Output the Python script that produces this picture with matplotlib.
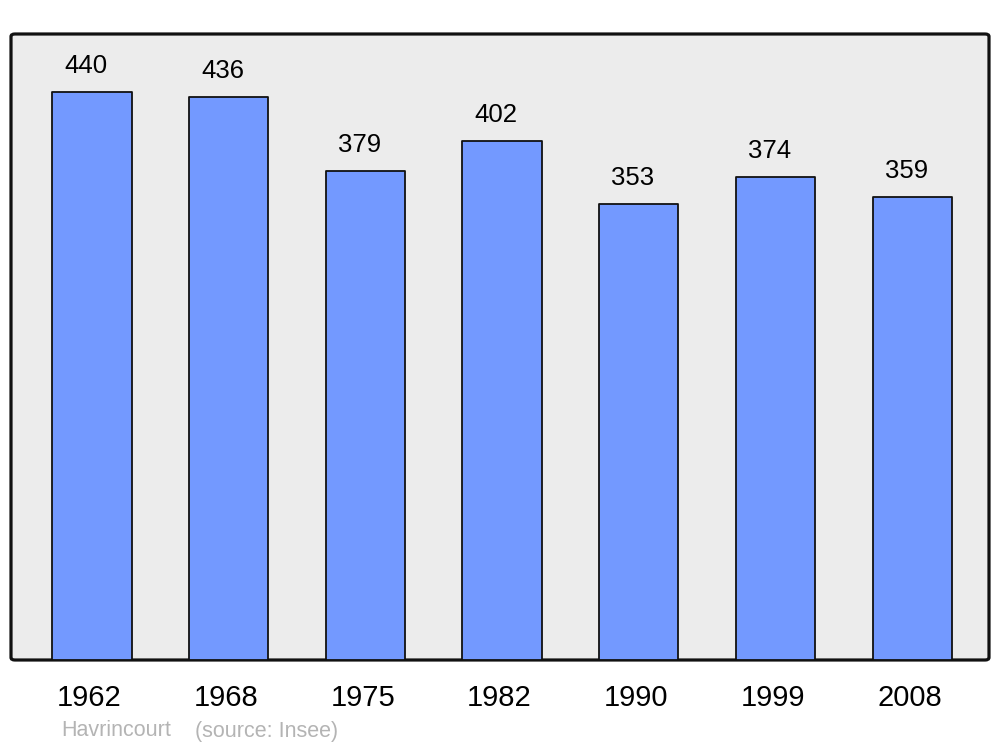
import matplotlib
matplotlib.use("Agg")
import matplotlib.pyplot as plt
from matplotlib.patches import FancyBboxPatch
from matplotlib.transforms import ScaledTranslation

plt.rcParams['font.family'] = ['Liberation Sans', 'DejaVu Sans']

years = ["1962", "1968", "1975", "1982", "1990", "1999", "2008"]
population = [440, 436, 379, 402, 353, 374, 359]
town = "Havrincourt"
source = "(source: Insee)"

fig = plt.figure(figsize=(10, 7.47), dpi=100)
ax = fig.add_axes([11/1000, 1-660/747, 978/1000, 626/747])
ax.set_facecolor('none')

bg = FancyBboxPatch((0, 0), 1, 1, boxstyle="round,pad=0,rounding_size=0.004",
                    transform=ax.transAxes, facecolor='#ececec', edgecolor='#111111',
                    linewidth=2.3, zorder=0, clip_on=False)
ax.add_patch(bg)

x = list(range(len(years)))
bars = ax.bar(x, population, width=0.58, color='#7399ff', edgecolor='#111111',
              linewidth=1.3, zorder=2)
for b in bars:
    b.set_joinstyle('round')

for xi, v in zip(x, population):
    ax.annotate(str(v), (xi, v), xytext=(-4.3, 13.6), textcoords='offset points',
                ha='center', va='baseline', fontsize=18.5, color='black')

ax.set_xlim(-0.593, 6.562)
ax.set_ylim(0, 485)
ax.set_xticks(x)
ax.set_xticklabels(years, fontsize=21)
ax.set_yticks([])
ax.tick_params(axis='x', length=0, pad=17)
shift = ScaledTranslation(-2.5/100, 0, fig.dpi_scale_trans)
for lbl in ax.get_xticklabels():
    lbl.set_transform(lbl.get_transform() + shift)
for s in ax.spines.values():
    s.set_visible(False)

fig.text(61/1000, 1-731/747, town, fontsize=15.5, color='#b4b4b4', va='center', ha='left')
fig.text(195/1000, 1-731/747, source, fontsize=15.5, color='#b4b4b4', va='center', ha='left')

fig.savefig("out.png", dpi=100)
